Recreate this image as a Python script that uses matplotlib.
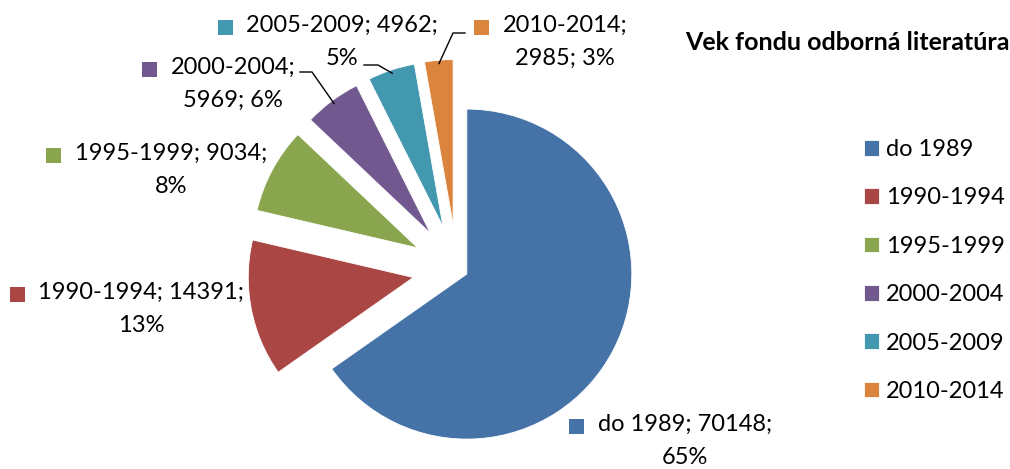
import numpy as np
import matplotlib.pyplot as plt

plt.rcParams['font.family'] = ['Lato', 'DejaVu Sans']

periods = ['do 1989', '1990-1994', '1995-1999', '2000-2004', '2005-2009', '2010-2014']
counts = [70148, 14391, 9034, 5969, 4962, 2985]
colors = ['#4572A7', '#AA4643', '#89A54E', '#71588F', '#4198AF', '#DB843D']
title = 'Vek fondu odborná literatúra'
# where Excel broke the label onto a second line
break_after_name = [False, False, False, True, False, True]

# layout in pixels of the 1010x469 picture
W, H = 1010, 469
CX, CY, R = 457, 269, 165
label_xy = [(685, 441), (141, 309), (171, 170), (233, 84), (342, 42), (565, 42)]
leader_start = {3: [(300, 72), (312, 72)],
                4: [(364, 65), (378, 65)],
                5: [(465, 33), (453, 33)]}
FS = 17


def px(x, y):
    return (x - CX) / R, (CY - y) / R


fig = plt.figure(figsize=(W / 100, H / 100), dpi=100)
ax = fig.add_axes([0, 0, 1, 1])
total = sum(counts)
wedges, _ = ax.pie(counts, colors=colors, startangle=90, counterclock=False,
                   explode=[0.067] + [0.27] * 5, radius=1,
                   wedgeprops=dict(edgecolor='white', linewidth=0.6))
ax.set_xlim(-CX / R, (W - CX) / R)
ax.set_ylim(-(H - CY) / R, CY / R)
ax.set_aspect('auto')
ax.set_axis_off()

texts = []
for i, (name, n) in enumerate(zip(periods, counts)):
    pct = round(100 * n / total)
    if break_after_name[i]:
        s = f'{name};\n{n}; {pct}%'
    else:
        s = f'{name}; {n};\n{pct}%'
    t = ax.text(*px(*label_xy[i]), s, ha='center', va='center',
                multialignment='center', fontsize=FS, linespacing=1.68)
    texts.append(t)

# legend keys in front of the data labels
fig.canvas.draw()
rend = fig.canvas.get_renderer()
inv = ax.transData.inverted()
for t, c in zip(texts, colors):
    bb = t.get_window_extent(rend)
    kx, ky = inv.transform((bb.x0 - 21.5, bb.y1 - 12))
    ax.scatter([kx], [ky], marker='s', s=(15 * 0.72) ** 2, color=c, linewidths=0)

# leader lines to the small slices
for i, pts in leader_start.items():
    w = wedges[i]
    mid = np.radians((w.theta1 + w.theta2) / 2)
    end = (w.center[0] + 0.98 * w.r * np.cos(mid), w.center[1] + 0.98 * w.r * np.sin(mid))
    xs = [px(*p)[0] for p in pts] + [end[0]]
    ys = [px(*p)[1] for p in pts] + [end[1]]
    ax.plot(xs, ys, color='black', lw=1)

fig.text(685 / W, 1 - 43 / H, title, fontsize=18, weight='bold', ha='left', va='center')
fig.legend(wedges, periods, loc='upper left', bbox_to_anchor=(864 / W, 1 - 139 / H),
           frameon=False, fontsize=FS, handlelength=0.64, handleheight=0.64,
           handletextpad=0.3, labelspacing=1.16, borderpad=0, borderaxespad=0)

fig.savefig('out.png', dpi=100)
